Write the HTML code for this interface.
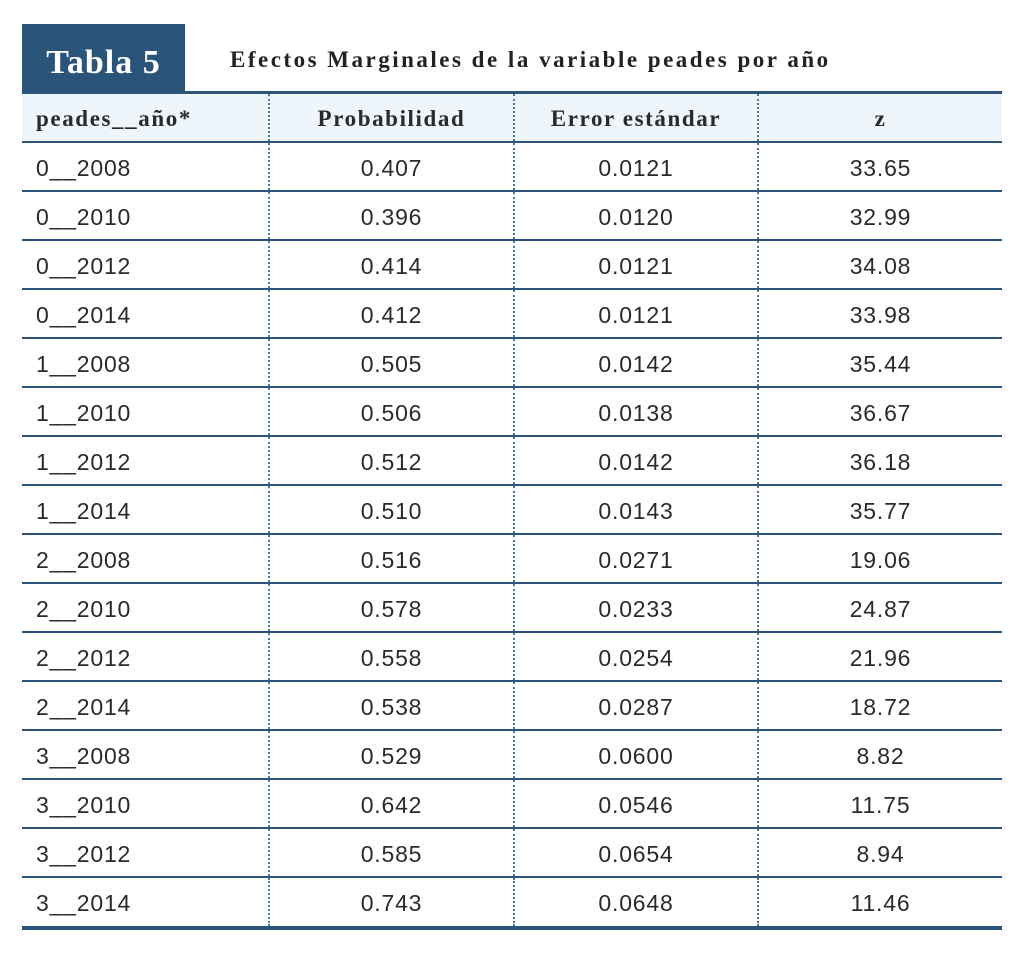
<!DOCTYPE html>
<html><head><meta charset="utf-8"><style>
body{margin:0;background:#fff;width:1023px;height:959px;position:relative;overflow:hidden}
.box{position:absolute;left:22px;top:24px;width:163px;height:68px;background:#2a5479;color:#fff;font:bold 34px "Liberation Serif",serif;letter-spacing:1px;text-align:center;line-height:78px}
.ttl{position:absolute;left:230px;top:47px;font:bold 23px "Liberation Serif",serif;letter-spacing:2.5px;color:#222;white-space:nowrap}
.hl{position:absolute;left:22px;top:91px;width:980px;height:3px;background:#2a5479}
table{position:absolute;left:22px;top:94px;width:980px;border-collapse:collapse;font:23px "Liberation Sans",sans-serif;letter-spacing:0.8px;color:#2a2a2a}
td,th{height:49px;padding:3px 0 0 0;box-sizing:border-box;border-bottom:2px solid #2a5479;text-align:center}
th{background:#eef5fb;font:bold 23px "Liberation Serif",serif;letter-spacing:1.6px;height:48px}
td:first-child,th:first-child{text-align:left;padding-left:14px}
td+td,th+th{border-left:2px dotted #4a78a8}
tr:last-child td{border-bottom:4px solid #2a5479;height:51px}
</style></head><body>
<div class="box">Tabla 5</div>
<div class="ttl">Efectos Marginales de la variable peades por año</div>
<div class="hl"></div>
<table>
<colgroup><col style="width:247px"><col style="width:245px"><col style="width:244px"><col></colgroup>
<tr><th>peades__año*</th><th>Probabilidad</th><th>Error estándar</th><th>z</th></tr>
<tr><td>0__2008</td><td>0.407</td><td>0.0121</td><td>33.65</td></tr>
<tr><td>0__2010</td><td>0.396</td><td>0.0120</td><td>32.99</td></tr>
<tr><td>0__2012</td><td>0.414</td><td>0.0121</td><td>34.08</td></tr>
<tr><td>0__2014</td><td>0.412</td><td>0.0121</td><td>33.98</td></tr>
<tr><td>1__2008</td><td>0.505</td><td>0.0142</td><td>35.44</td></tr>
<tr><td>1__2010</td><td>0.506</td><td>0.0138</td><td>36.67</td></tr>
<tr><td>1__2012</td><td>0.512</td><td>0.0142</td><td>36.18</td></tr>
<tr><td>1__2014</td><td>0.510</td><td>0.0143</td><td>35.77</td></tr>
<tr><td>2__2008</td><td>0.516</td><td>0.0271</td><td>19.06</td></tr>
<tr><td>2__2010</td><td>0.578</td><td>0.0233</td><td>24.87</td></tr>
<tr><td>2__2012</td><td>0.558</td><td>0.0254</td><td>21.96</td></tr>
<tr><td>2__2014</td><td>0.538</td><td>0.0287</td><td>18.72</td></tr>
<tr><td>3__2008</td><td>0.529</td><td>0.0600</td><td>8.82</td></tr>
<tr><td>3__2010</td><td>0.642</td><td>0.0546</td><td>11.75</td></tr>
<tr><td>3__2012</td><td>0.585</td><td>0.0654</td><td>8.94</td></tr>
<tr><td>3__2014</td><td>0.743</td><td>0.0648</td><td>11.46</td></tr>
</table>
</body></html>
